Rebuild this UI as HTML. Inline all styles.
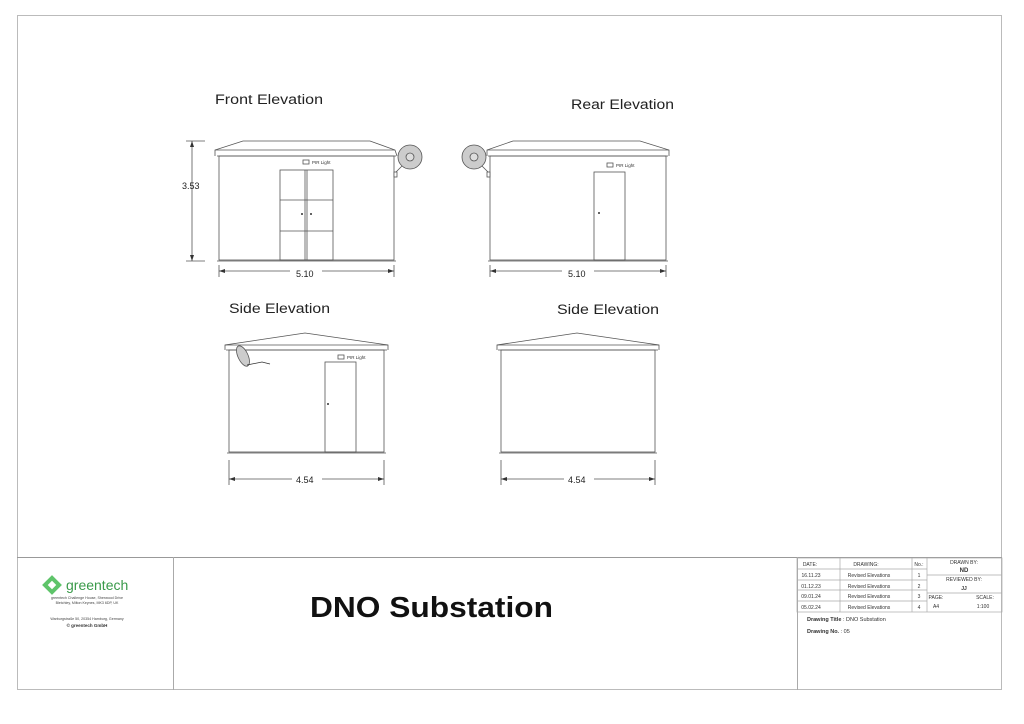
<!DOCTYPE html>
<html><head><meta charset="utf-8"><style>
html,body{margin:0;padding:0;background:#fff;}
svg{display:block;font-family:"Liberation Sans",sans-serif;}
</style></head><body>
<svg width="1024" height="724" viewBox="0 0 1024 724" xmlns="http://www.w3.org/2000/svg">
<rect x="0" y="0" width="1024" height="724" fill="#fff"/>
<rect x="17.5" y="15.5" width="984" height="674" fill="none" stroke="#bbb" stroke-width="1"/>
<line x1="17" y1="557.5" x2="1002" y2="557.5" stroke="#999"/>
<line x1="173.5" y1="557" x2="173.5" y2="690" stroke="#aaa"/>
<line x1="797.5" y1="557" x2="797.5" y2="690" stroke="#aaa"/>

<g fill="#222" font-size="13.5">
<text x="215" y="104" textLength="108" lengthAdjust="spacingAndGlyphs">Front Elevation</text>
<text x="571" y="109" textLength="103" lengthAdjust="spacingAndGlyphs">Rear Elevation</text>
<text x="229" y="313" textLength="101" lengthAdjust="spacingAndGlyphs">Side Elevation</text>
<text x="557" y="314" textLength="102" lengthAdjust="spacingAndGlyphs">Side Elevation</text>
</g>

<g fill="none" stroke="#555" stroke-width="0.8">
<polyline points="215,156 215,150 243,141 370,141 395,150 397,156"/>
<line x1="215" y1="150" x2="395" y2="150"/>
<line x1="217" y1="156" x2="396" y2="156"/>
<rect x="219" y="156" width="175" height="104"/>
<line x1="217" y1="261" x2="396" y2="261"/>
<rect x="280" y="170" width="53" height="90"/>
<line x1="305" y1="170" x2="305" y2="260"/><line x1="307" y1="170" x2="307" y2="260"/>
<line x1="280" y1="200" x2="333" y2="200"/><line x1="280" y1="231" x2="333" y2="231"/>
<rect x="303" y="160" width="6" height="4"/>
<line x1="192" y1="141" x2="192" y2="261"/>
<line x1="186" y1="141" x2="205" y2="141"/><line x1="186" y1="261" x2="205" y2="261"/>
<line x1="219" y1="265" x2="219" y2="277"/><line x1="394" y1="265" x2="394" y2="277"/>
<line x1="219" y1="271" x2="290" y2="271"/><line x1="322" y1="271" x2="394" y2="271"/>
<polyline points="487,156 487,150 513,141 640,141 669,150 669,156"/>
<line x1="487" y1="150" x2="669" y2="150"/>
<line x1="488" y1="156" x2="668" y2="156"/>
<rect x="490" y="156" width="176" height="104"/>
<line x1="488" y1="261" x2="668" y2="261"/>
<rect x="594" y="172" width="31" height="88"/>
<rect x="607" y="163" width="6" height="4"/>
<line x1="490" y1="265" x2="490" y2="277"/><line x1="666" y1="265" x2="666" y2="277"/>
<line x1="490" y1="271" x2="562" y2="271"/><line x1="594" y1="271" x2="666" y2="271"/>
<polyline points="225,350 225,345 305,333 388,345 388,350"/>
<line x1="225" y1="345" x2="388" y2="345"/>
<line x1="226" y1="350" x2="387" y2="350"/>
<rect x="229" y="350" width="155" height="102"/>
<line x1="227" y1="453" x2="386" y2="453"/>
<rect x="325" y="362" width="31" height="90"/>
<rect x="338" y="355" width="6" height="4"/>
<line x1="229" y1="460" x2="229" y2="485"/><line x1="384" y1="460" x2="384" y2="485"/>
<line x1="229" y1="479" x2="292" y2="479"/><line x1="322" y1="479" x2="384" y2="479"/>
<polyline points="497,350 497,345 577,333 659,345 659,350"/>
<line x1="497" y1="345" x2="659" y2="345"/>
<line x1="498" y1="350" x2="658" y2="350"/>
<rect x="501" y="350" width="154" height="102"/>
<line x1="499" y1="453" x2="657" y2="453"/>
<line x1="501" y1="460" x2="501" y2="485"/><line x1="655" y1="460" x2="655" y2="485"/>
<line x1="501" y1="479" x2="564" y2="479"/><line x1="594" y1="479" x2="655" y2="479"/>
</g>
<g fill="#333">
<polygon points="192,141 190,147 194,147"/><polygon points="192,261 190,255 194,255"/>
<polygon points="219,271 225,269 225,273"/><polygon points="394,271 388,269 388,273"/>
<polygon points="490,271 496,269 496,273"/><polygon points="666,271 660,269 660,273"/>
<polygon points="229,479 235,477 235,481"/><polygon points="384,479 378,477 378,481"/>
<polygon points="501,479 507,477 507,481"/><polygon points="655,479 649,477 649,481"/>
<circle cx="302" cy="214" r="1"/><circle cx="311" cy="214" r="1"/>
<circle cx="599" cy="213" r="1"/><circle cx="328" cy="404" r="1"/>
</g>
<g fill="#222" font-size="9">
<text x="182" y="189">3.53</text>
<text x="296" y="277">5.10</text>
<text x="568" y="277">5.10</text>
<text x="296" y="483">4.54</text>
<text x="568" y="483">4.54</text>
</g>
<g fill="#333" font-size="4.5">
<text x="312" y="164">PIR Light</text>
<text x="616" y="167">PIR Light</text>
<text x="347" y="359">PIR Light</text>
</g>
<g stroke="#555" stroke-width="0.8">
<circle cx="410" cy="157" r="12" fill="#ccc"/><circle cx="410" cy="157" r="4" fill="#ddd"/>
<line x1="402" y1="166" x2="396" y2="172"/><rect x="394" y="172" width="3" height="5" fill="#fff"/>
<circle cx="474" cy="157" r="12" fill="#ccc"/><circle cx="474" cy="157" r="4" fill="#ddd"/>
<line x1="482" y1="166" x2="488" y2="172"/><rect x="487" y="172" width="3" height="5" fill="#fff"/>
<ellipse cx="243" cy="356" rx="5" ry="11" transform="rotate(-25 243 356)" fill="#ccc"/>
<polyline points="247,365 262,362 270,364" fill="none" stroke="#333"/>
</g>

<g transform="translate(52,585)">
<rect x="-7" y="-7" width="14" height="14" fill="#5ec46a" transform="rotate(45)"/>
<rect x="-3" y="-3" width="6" height="6" fill="#fff" transform="rotate(45)"/>
</g>
<text x="66" y="590" font-size="14" fill="#3a9a4a">greentech</text>
<g fill="#444" font-size="3.6" text-anchor="middle">
<text x="87" y="599">greentech Challenge House, Sherwood Drive</text>
<text x="87" y="604">Bletchley, Milton Keynes, MK3 6DP, UK</text>
<text x="87" y="620">Warburgstraße 50, 20354 Hamburg, Germany</text>
</g>
<text x="87" y="627" font-size="4.5" font-weight="bold" fill="#333" text-anchor="middle">© greentech GmbH</text>

<text x="310" y="617" font-size="29" font-weight="bold" fill="#111" textLength="243" lengthAdjust="spacingAndGlyphs">DNO Substation</text>

<g fill="none" stroke="#aaa" stroke-width="0.7">
<rect x="797" y="558" width="205" height="54"/>
<line x1="797" y1="569" x2="927" y2="569"/>
<line x1="797" y1="580" x2="927" y2="580"/>
<line x1="797" y1="590" x2="927" y2="590"/>
<line x1="797" y1="601" x2="927" y2="601"/>
<line x1="840" y1="558" x2="840" y2="612"/>
<line x1="912" y1="558" x2="912" y2="612"/>
<line x1="927" y1="558" x2="927" y2="612"/>
<line x1="927" y1="575" x2="1002" y2="575"/>
<line x1="927" y1="593" x2="1002" y2="593"/>
</g>
<g fill="#333" font-size="5" text-anchor="middle">
<text x="810" y="566">DATE:</text><text x="866" y="566">DRAWING:</text><text x="919" y="566">No.:</text>
<text x="811" y="577">16.11.23</text><text x="869" y="577">Revised Elevations</text><text x="919" y="577">1</text>
<text x="811" y="588">01.12.23</text><text x="869" y="588">Revised Elevations</text><text x="919" y="588">2</text>
<text x="811" y="598">09.01.24</text><text x="869" y="598">Revised Elevations</text><text x="919" y="598">3</text>
<text x="811" y="609">05.02.24</text><text x="869" y="609">Revised Elevations</text><text x="919" y="609">4</text>
<text x="964" y="564">DRAWN BY:</text><text x="964" y="572" font-weight="bold" font-size="6">ND</text>
<text x="964" y="581">REVIEWED BY:</text><text x="964" y="590" font-weight="bold">JJ</text>
<text x="936" y="599">PAGE:</text><text x="985" y="599">SCALE:</text>
<text x="936" y="608">A4</text><text x="983" y="608">1:100</text>
</g>
<g fill="#333" font-size="5.5">
<text x="807" y="621"><tspan font-weight="bold">Drawing Title</tspan> : DNO Substation</text>
<text x="807" y="633"><tspan font-weight="bold">Drawing No.</tspan>  :     05</text>
</g>
</svg>
</body></html>
